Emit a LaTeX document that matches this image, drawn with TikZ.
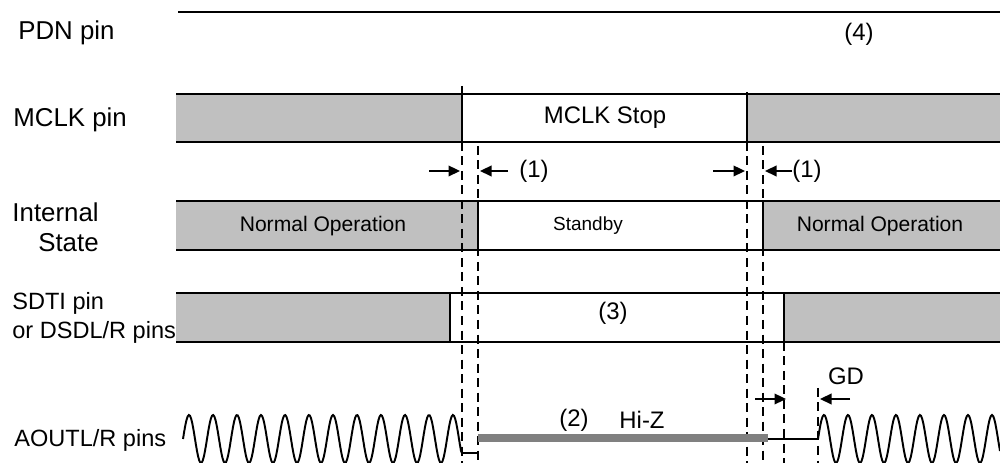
\documentclass[tikz,border=0pt]{standalone}
\usepackage{fontspec}
\setmainfont{Liberation Sans}
\usetikzlibrary{arrows.meta}

\definecolor{busygray}{RGB}{192,192,192}
\definecolor{hizgray}{RGB}{128,128,128}

\begin{document}
\begin{tikzpicture}[x=0.2mm, y=-0.2mm,
  sig/.style={line width=1.1pt},
  busy/.style={fill=busygray},
  guide/.style={line width=1.1pt, dash pattern=on 1.8mm off 1.1mm},
  gap/.style={line width=1.3pt, -{Triangle[length=2.3mm, width=2.1mm]}},
  pinlbl/.style={font=\fontsize{14.7}{17}\selectfont, inner sep=0pt},
  pinsm/.style={font=\fontsize{13.4}{16.4}\selectfont, inner sep=0pt},
  statelbl/.style={font=\fontsize{12}{14}\selectfont, inner sep=0pt},
  note/.style={font=\fontsize{13.6}{16}\selectfont, inner sep=0pt}]

\useasboundingbox (0,0) rectangle (1000,463);

% ── Pin names ──
\node[pinlbl, anchor=west] (pdn) at (18,33) {PDN pin};
\node[pinlbl, anchor=west] (mclk) at (13,120) {MCLK pin};
\node[pinlbl, anchor=east, align=right, font=\fontsize{14.7}{17}\selectfont] (state) at (99,227) {Internal\\State};
\node[pinsm, anchor=west, align=left] (sdti) at (12,318) {SDTI pin\\or DSDL/R pins};
\node[pinsm, anchor=west] (aout) at (14,440) {AOUTL/R pins};

% ── PDN ──
\draw[sig] (178,12) -- (1000,12);
\node[note] (n4) at (859,34) {(4)};

% ── MCLK ──
\fill[busy] (176,94) rectangle (462,142);
\fill[busy] (747,94) rectangle (1000,142);
\draw[sig] (176,94) -- (1000,94) (176,142) -- (1000,142);
\draw[sig] (462,86) -- (462,142);
\draw[sig] (747,92) -- (747,142);
\node[note] (stop) at (605,118) {MCLK Stop};

% ── Internal state ──
\fill[busy] (176,201) rectangle (478,250);
\fill[busy] (763,201) rectangle (1000,250);
\draw[sig] (176,201) -- (1000,201) (176,250) -- (1000,250);
\draw[sig] (478,201) -- (478,250);
\draw[sig] (763,201) -- (763,250);
\node[statelbl] (norm1) at (323,226) {Normal Operation};
\node[statelbl, font=\fontsize{10.8}{13}\selectfont] (stby) at (588,226) {Standby};
\node[statelbl] (norm2) at (880,226) {Normal Operation};

% ── SDTI / DSDL/R ──
\fill[busy] (176,293) rectangle (450,342);
\fill[busy] (784,293) rectangle (1000,342);
\draw[sig] (176,293) -- (1000,293) (176,342) -- (1000,342);
\draw[sig] (450,293) -- (450,342);
\draw[sig] (784,293) -- (784,342);
\node[note] (n3) at (613,313) {(3)};

% ── Guides ──
\draw[guide] (462,142) -- (462,463);
\draw[guide] (478,146) -- (478,463);
\draw[guide] (747,142) -- (747,463);
\draw[guide] (763,146) -- (763,463);
\draw[guide] (784,342) -- (784,463);
\draw[guide] (818,388) -- (818,463);

% ── Delays (1) ──
\coordinate (d1a) at (429,171); \coordinate (d1b) at (460,171);
\coordinate (d1c) at (508,171); \coordinate (d1d) at (480,171);
\draw[gap] (d1a) -- (d1b);
\draw[gap] (d1c) -- (d1d);
\node[note] (n1a) at (534,171) {(1)};

\coordinate (d2a) at (713,171); \coordinate (d2b) at (745,171);
\coordinate (d2d) at (765,171);
\node[note, anchor=west] (n1b) at (792,171) {(1)};
\draw[gap] (d2a) -- (d2b);
\draw[gap] (n1b.west) -- (d2d);

% ── GD ──
\coordinate (g1) at (755,399); \coordinate (g2) at (786,399);
\coordinate (g3) at (850,399); \coordinate (g4) at (820,399);
\draw[gap] (g1) -- (g2);
\draw[gap] (g3) -- (g4);
\node[note] (gd) at (846,376) {GD};

% ── AOUTL/R ──
\draw[sig, domain=183:461, samples=240] plot (\x, {439-24*sin(15*(\x-183))})
  -- (462,453) -- (478,453);
\draw[hizgray, line width=4.5pt] (478,438) -- (768,438);
\draw[sig] (768,439) -- (818,439);
\draw[sig, domain=818:1000, samples=160] plot (\x, {439-24*sin(15*(\x-818))});
\node[note] (n2) at (574,420) {(2)};
\node[note] (hiz) at (642,420) {Hi-Z};

\end{tikzpicture}
\end{document}
